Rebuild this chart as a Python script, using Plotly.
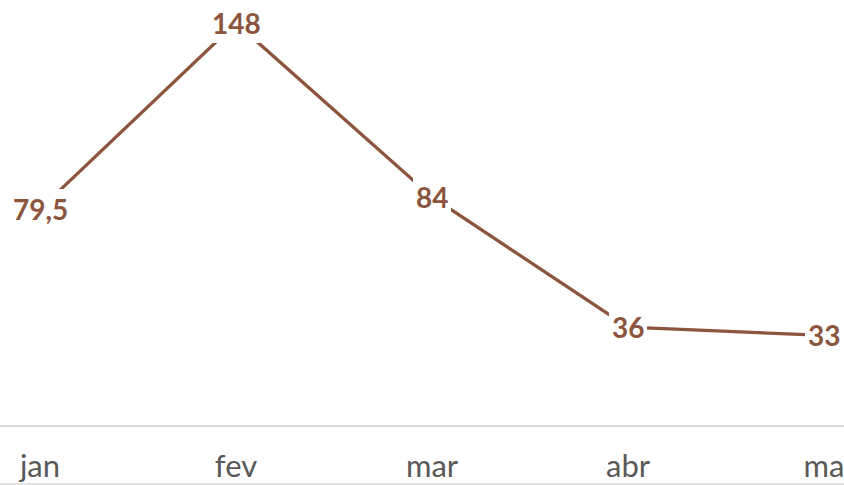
import plotly.graph_objects as go

months = ["jan", "fev", "mar", "abr", "mai"]
tick_labels = ["jan", "fev", "mar", "abr", "ma"]
values = [79.5, 148, 84, 36, 33]
labels = [("%g" % v).replace(".", ",") for v in values]

BROWN = "#8B553E"

fig = go.Figure()
fig.add_trace(go.Scatter(
    x=months, y=values, mode="lines",
    line=dict(color=BROWN, width=3.3),
    hoverinfo="skip", showlegend=False,
))

for m, v, t in zip(months, values, labels):
    fig.add_annotation(
        x=m, y=v, text="<b>%s</b>" % t, showarrow=False,
        font=dict(family="Lato", size=28, color=BROWN),
        bgcolor="white", borderpad=3, borderwidth=0,
        xanchor="center", yanchor="middle",
    )

fig.add_shape(type="line", xref="paper", yref="paper",
              x0=0, x1=1, y0=-59 / 425, y1=-59 / 425,
              line=dict(color="#D9D9D9", width=1.5))

fig.update_layout(
    width=844, height=485,
    margin=dict(l=0, r=0, t=0, b=60),
    paper_bgcolor="white", plot_bgcolor="white",
    hovermode=False,
    xaxis=dict(
        type="category", range=[-0.2041, 4.102],
        tickmode="array", tickvals=months, ticktext=tick_labels,
        showline=True, linecolor="#D9D9D9", linewidth=1.5,
        showgrid=False, ticks="", ticklabelstandoff=13,
        tickfont=dict(family="Lato", size=31, color="#595959"),
    ),
    yaxis=dict(
        range=[0, 156.5], visible=False, showgrid=False, zeroline=False,
    ),
)

post = (
    "document.documentElement.style.margin='0';"
    "document.documentElement.style.overflow='hidden';"
    "document.body.style.margin='0';"
    "document.body.style.overflow='hidden';"
    "var gd=document.getElementById('{plot_id}');"
    "gd.style.overflow='hidden';"
)

fig.write_html(
    "out.html",
    config={"displayModeBar": False, "staticPlot": True},
    post_script=post,
)
